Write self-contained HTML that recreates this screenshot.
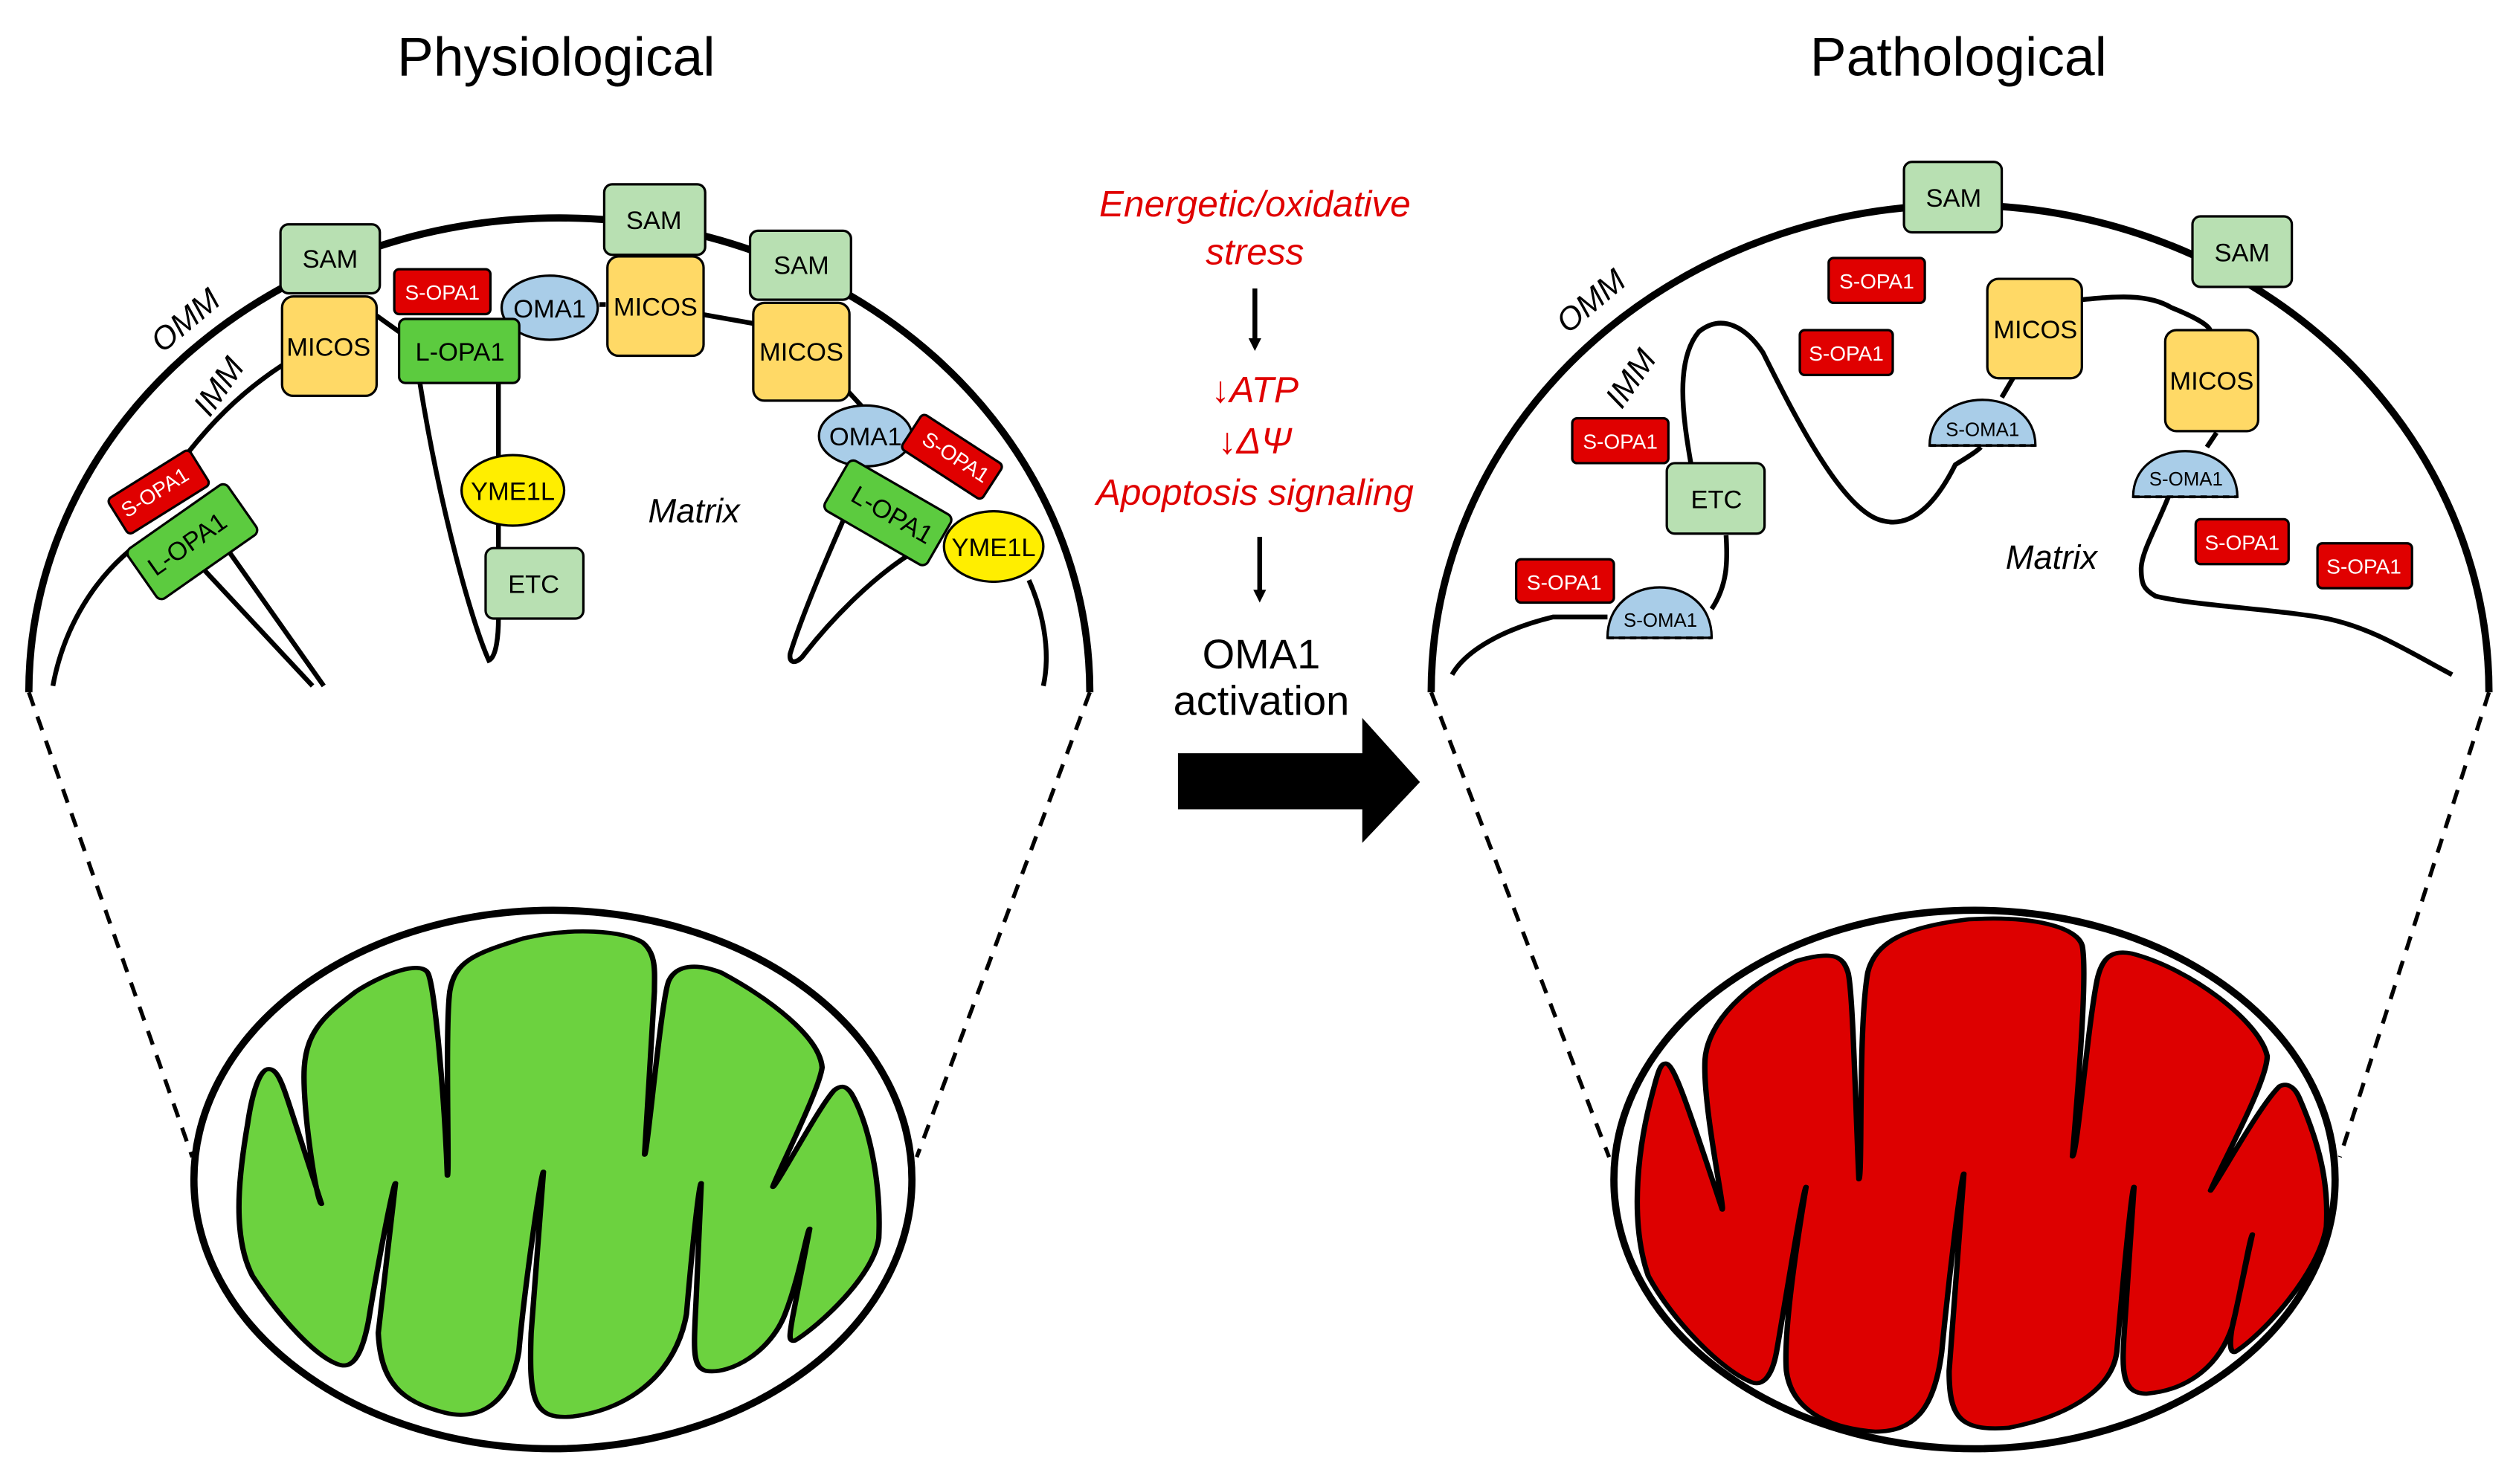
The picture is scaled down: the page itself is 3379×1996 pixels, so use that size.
<!DOCTYPE html>
<html><head><meta charset="utf-8"><style>
html,body{margin:0;padding:0;background:#fff}
svg{display:block}
text{font-family:"Liberation Sans",sans-serif}
</style></head><body>
<svg width="3379" height="1996" viewBox="0 0 1568 926" preserveAspectRatio="none" xmlns="http://www.w3.org/2000/svg">
<defs>
<marker id="ah" markerWidth="8" markerHeight="8" refX="4" refY="4" orient="auto" markerUnits="userSpaceOnUse"><path d="M0,0 L8,4 L0,8z" fill="#000"/></marker>
</defs>
<text x="347" y="47" font-size="34" text-anchor="middle">Physiological</text>
<text x="1222" y="47" font-size="34" text-anchor="middle">Pathological</text>

<!-- LEFT DOME -->
<path d="M18,432 A331,296 0 0 1 680,432" fill="none" stroke="#000" stroke-width="4.5"/>
<g fill="none" stroke="#000" stroke-width="3">
<path d="M33,428 C40,390 60,360 84,341"/>
<path d="M110,292 C130,265 150,245 176,228"/>
<path d="M124,352 L195,428 M142,343 L202,428"/>
<path d="M235,197 L249,207"/>
<path d="M262,239 C275,320 295,390 305,412 C310,410 311,395 311,386"/>
<path d="M311,239 L311,342"/>
<path d="M305,206 L312,200 M374,190 L378,190 M437,196 L471,202"/>
<path d="M528,243 L540,256"/>
<path d="M526,325 C515,350 500,385 493,408 C492,415 498,414 502,408 C520,385 545,360 569,345"/>
<path d="M642,362 C650,380 656,405 651,428"/>
</g>
<g stroke="#000" stroke-width="1.5">
<rect x="175" y="140" width="62" height="43" rx="5" fill="#b8e0b2"/>
<rect x="377" y="115" width="63" height="44" rx="5" fill="#b8e0b2"/>
<rect x="468" y="144" width="63" height="43" rx="5" fill="#b8e0b2"/>
<rect x="176" y="185" width="59" height="62" rx="7" fill="#ffd966"/>
<rect x="379" y="160" width="60" height="62" rx="7" fill="#ffd966"/>
<rect x="470" y="189" width="60" height="61" rx="7" fill="#ffd966"/>
<rect x="246" y="168" width="60" height="28" rx="3" fill="#e00000"/>
<ellipse cx="343" cy="192" rx="30" ry="20" fill="#a9cde8"/>
<rect x="249" y="199" width="75" height="40" rx="4" fill="#5ccb3f"/>
<ellipse cx="320" cy="306" rx="32" ry="22" fill="#ffee00"/>
<rect x="303" y="342" width="61" height="44" rx="5" fill="#b8e0b2"/>
<g transform="translate(99,307) rotate(-32)"><rect x="-30" y="-13" width="60" height="26" rx="3" fill="#e00000"/></g>
<g transform="translate(120,338) rotate(-35)"><rect x="-38" y="-19" width="76" height="38" rx="4" fill="#5ccb3f"/></g>
<ellipse cx="540" cy="272" rx="29" ry="19" fill="#a9cde8"/>
<g transform="translate(594,285) rotate(33)"><rect x="-30" y="-13" width="60" height="26" rx="3" fill="#e00000"/></g>
<g transform="translate(554,320) rotate(30)"><rect x="-37" y="-18" width="74" height="36" rx="4" fill="#5ccb3f"/></g>
<ellipse cx="620" cy="341" rx="31" ry="22" fill="#ffee00"/>
</g>
<g font-size="16" text-anchor="middle">
<text x="206" y="167">SAM</text><text x="408" y="143">SAM</text><text x="500" y="171">SAM</text>
<text x="205" y="222">MICOS</text><text x="409" y="197">MICOS</text><text x="500" y="225">MICOS</text>
<text x="276" y="187" font-size="13" fill="#fff">S-OPA1</text>
<text x="343" y="198">OMA1</text>
<text x="287" y="225">L-OPA1</text>
<text x="320" y="312">YME1L</text>
<text x="333" y="370">ETC</text>
<text transform="translate(99,311) rotate(-32)" font-size="13" fill="#fff">S-OPA1</text>
<text transform="translate(120,344) rotate(-35)">L-OPA1</text>
<text x="540" y="278">OMA1</text>
<text transform="translate(594,289) rotate(33)" font-size="13" fill="#fff">S-OPA1</text>
<text transform="translate(554,326) rotate(30)">L-OPA1</text>
<text x="620" y="347">YME1L</text>
</g>
<text transform="translate(120,205) rotate(-40)" font-size="20" font-style="italic" text-anchor="middle">OMM</text>
<text transform="translate(142,245) rotate(-55)" font-size="20" font-style="italic" text-anchor="middle">IMM</text>
<text x="433" y="326" font-size="21" font-style="italic" text-anchor="middle">Matrix</text>

<g stroke="#000" stroke-width="2.5" stroke-dasharray="9,7">
<line x1="18" y1="432" x2="120" y2="722"/><line x1="680" y1="432" x2="572" y2="722"/>
<line x1="893" y1="432" x2="1004" y2="722"/><line x1="1553" y1="432" x2="1460" y2="722"/>
</g>

<ellipse cx="345" cy="736" rx="224" ry="168" fill="#fff" stroke="#000" stroke-width="4.5"/>
<g transform="translate(111.4,547.6) scale(0.3077,0.2368)">
<path d="M180,505 C200,500 210,540 230,620 L290,860 C280,860 250,600 255,500 C260,400 300,360 360,300 C420,250 490,220 505,250 C520,280 540,600 545,785 C550,800 540,400 550,300 C560,220 600,200 700,160 C800,130 900,140 940,170 C970,200 965,250 965,300 L945,730 C950,740 980,300 995,270 C1010,230 1050,225 1100,250 C1200,320 1300,420 1305,500 C1300,560 1210,790 1205,815 C1210,820 1300,600 1330,560 C1345,545 1355,550 1365,570 C1400,650 1425,800 1420,950 C1410,1050 1300,1180 1250,1220 C1235,1225 1240,1200 1245,1160 L1280,925 C1275,925 1260,1050 1230,1150 C1200,1250 1120,1310 1070,1300 C1040,1290 1045,1240 1050,1100 L1060,805 C1055,805 1040,1000 1030,1150 C1010,1300 920,1400 800,1420 C720,1430 710,1380 715,1200 L740,775 C735,775 700,1100 690,1250 C670,1400 600,1430 540,1410 C450,1380 410,1330 405,1200 L440,805 C435,805 400,1050 385,1170 C370,1270 350,1290 330,1285 C280,1270 200,1150 150,1050 C110,950 120,800 140,650 C150,560 165,510 180,505 Z" fill="#6cd23f" stroke="#000" stroke-width="11" stroke-linejoin="round"/>
</g>

<g fill="#e00000" font-size="23" font-style="italic" text-anchor="middle">
<text x="783" y="135">Energetic/oxidative</text>
<text x="783" y="165">stress</text>
<text x="783" y="251">↓ATP</text>
<text x="783" y="283">↓ΔΨ</text>
<text x="783" y="315">Apoptosis signaling</text>
</g>
<line x1="783" y1="180" x2="783" y2="215" stroke="#000" stroke-width="3" marker-end="url(#ah)"/>
<line x1="786" y1="335" x2="786" y2="372" stroke="#000" stroke-width="3" marker-end="url(#ah)"/>
<text x="787" y="417" font-size="26" text-anchor="middle">OMA1</text>
<text x="787" y="446" font-size="26" text-anchor="middle">activation</text>
<path d="M735,470 L850,470 L850,448 L886,488 L850,526 L850,505 L735,505 Z" fill="#000"/>

<path d="M893,432 A330,304 0 0 1 1553,432" fill="none" stroke="#000" stroke-width="4.5"/>
<path d="M906,421 C915,405 940,392 969,385 L1003,385 M1068,380 C1078,365 1078,350 1077,334 M1055,289 C1050,260 1045,225 1060,207 C1075,195 1090,205 1100,220 C1120,260 1150,320 1175,325 C1195,330 1210,310 1220,290 C1228,285 1233,282 1236,279 M1249,248 L1256,236 M1299,187 C1320,185 1340,183 1355,192 C1370,198 1378,203 1379,206 M1383,270 L1377,279 M1353,310 C1345,330 1336,345 1336,355 C1336,365 1338,368 1345,372 C1370,378 1420,380 1452,386 C1480,392 1500,405 1530,421" fill="none" stroke="#000" stroke-width="3"/>
<g stroke="#000" stroke-width="1.5">
<rect x="1188" y="101" width="61" height="44" rx="5" fill="#b8e0b2"/>
<rect x="1368" y="135" width="62" height="44" rx="5" fill="#b8e0b2"/>
<rect x="1240" y="174" width="59" height="62" rx="7" fill="#ffd966"/>
<rect x="1351" y="206" width="58" height="63" rx="7" fill="#ffd966"/>
<rect x="1040" y="289" width="61" height="44" rx="5" fill="#b8e0b2"/>
<rect x="1141" y="161" width="60" height="28" rx="3" fill="#e00000"/>
<rect x="1123" y="206" width="58" height="28" rx="3" fill="#e00000"/>
<rect x="981" y="261" width="60" height="28" rx="3" fill="#e00000"/>
<rect x="946" y="349" width="61" height="27" rx="3" fill="#e00000"/>
<rect x="1370" y="324" width="58" height="28" rx="3" fill="#e00000"/>
<rect x="1446" y="339" width="59" height="28" rx="3" fill="#e00000"/>
<path d="M1204,278 C1204,240 1270,240 1270,278 Z" fill="#a9cde8"/>
<path d="M1331,310 C1331,272 1396,272 1396,310 Z" fill="#a9cde8"/>
<path d="M1003,398 C1003,356 1068,356 1068,398 Z" fill="#a9cde8"/>
</g>
<g stroke="#000" stroke-width="1.8" stroke-dasharray="4,3">
<line x1="1204" y1="278" x2="1270" y2="278"/><line x1="1331" y1="310" x2="1396" y2="310"/><line x1="1003" y1="398" x2="1068" y2="398"/>
</g>
<g font-size="16" text-anchor="middle">
<text x="1219" y="129">SAM</text><text x="1399" y="163">SAM</text>
<text x="1270" y="211">MICOS</text><text x="1380" y="243">MICOS</text>
<text x="1071" y="317">ETC</text>
<g font-size="13" fill="#fff">
<text x="1171" y="180">S-OPA1</text><text x="1152" y="225">S-OPA1</text><text x="1011" y="280">S-OPA1</text>
<text x="976" y="368">S-OPA1</text><text x="1399" y="343">S-OPA1</text><text x="1475" y="358">S-OPA1</text>
</g>
<g font-size="12">
<text x="1237" y="272">S-OMA1</text><text x="1364" y="303">S-OMA1</text><text x="1036" y="391">S-OMA1</text>
</g>
</g>
<text transform="translate(997,193) rotate(-40)" font-size="20" font-style="italic" text-anchor="middle">OMM</text>
<text transform="translate(1023,240) rotate(-55)" font-size="20" font-style="italic" text-anchor="middle">IMM</text>
<text x="1280" y="355" font-size="21" font-style="italic" text-anchor="middle">Matrix</text>

<ellipse cx="1232" cy="736" rx="225" ry="168" fill="#fff" stroke="#000" stroke-width="4.5"/>
<g transform="translate(997.7,547.6) scale(0.3077,0.2368)">
<path d="M135,490 C150,490 170,560 250,875 C255,870 210,600 215,480 C220,380 300,280 400,220 C480,190 495,210 505,250 C515,300 520,600 527,795 C535,790 525,400 545,250 C560,170 620,130 750,110 C880,100 970,130 980,180 C990,250 975,500 960,735 C970,730 990,400 1010,270 C1020,210 1040,190 1080,200 C1200,240 1340,380 1355,470 C1355,540 1260,760 1240,825 C1260,790 1340,600 1380,550 C1395,540 1410,550 1420,580 C1460,700 1480,800 1475,920 C1460,1040 1350,1200 1290,1250 C1275,1255 1280,1200 1290,1150 L1325,940 C1320,945 1300,1100 1285,1180 C1260,1280 1200,1350 1110,1360 C1060,1360 1060,1300 1065,1200 L1085,815 C1080,815 1060,1100 1050,1250 C1040,1350 950,1420 830,1450 C730,1460 710,1420 710,1300 L740,780 C735,780 710,1050 695,1250 C680,1400 640,1460 560,1460 C460,1450 390,1400 380,1300 C375,1220 390,1050 420,815 C415,815 380,1100 360,1250 C350,1320 330,1340 310,1330 C250,1300 150,1170 100,1050 C60,900 80,700 110,560 C120,510 125,490 135,490 Z" fill="#dd0000" stroke="#000" stroke-width="11" stroke-linejoin="round"/>
</g>
</svg>
</body></html>
